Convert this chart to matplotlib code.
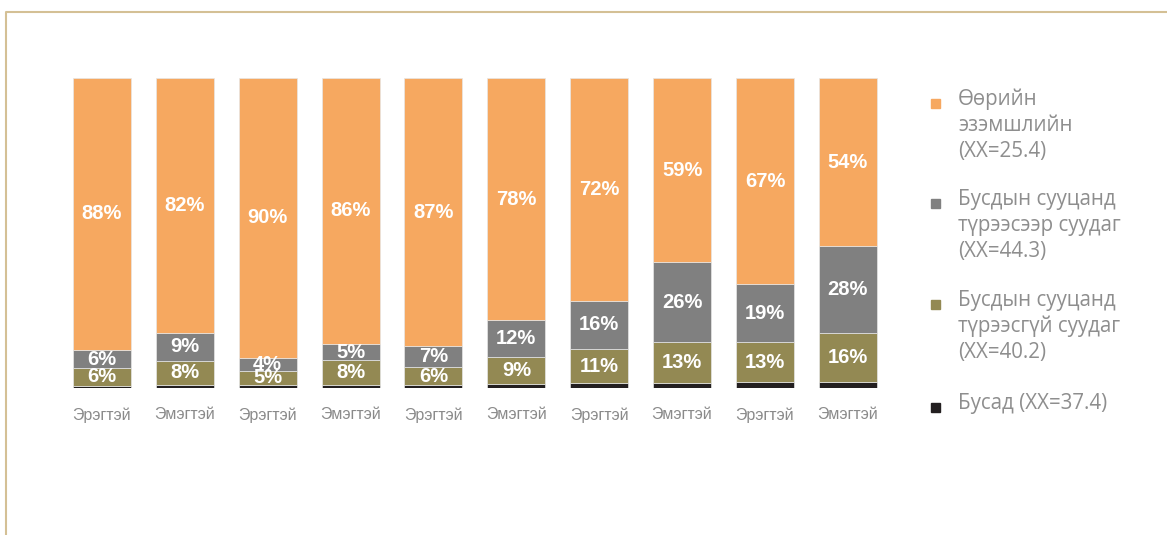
import matplotlib.pyplot as plt
from matplotlib.lines import Line2D
from matplotlib.patches import Rectangle
import numpy as np

# sex of the respondent, alternating for each bar
categories = ['Эрэгтэй', 'Эмэгтэй', 'Эрэгтэй', 'Эмэгтэй', 'Эрэгтэй',
              'Эмэгтэй', 'Эрэгтэй', 'Эмэгтэй', 'Эрэгтэй', 'Эмэгтэй']

# shares of each housing type, percent
own = [87.7, 82.2, 90.3, 85.8, 86.6, 78.2, 71.8, 59.4, 66.6, 54.2]
rent = [5.9, 9.1, 4.1, 5.3, 6.7, 11.8, 15.7, 25.8, 18.6, 27.9]
no_rent = [5.7, 7.7, 4.6, 7.9, 5.7, 8.8, 10.9, 13.2, 12.9, 15.9]
other = [0.7, 1.0, 1.0, 1.0, 1.0, 1.2, 1.6, 1.6, 1.9, 2.0]

series_names = ['Өөрийн\nэзэмшлийн\n(XX=25.4)',
                'Бусдын сууцанд\nтүрээсээр суудаг\n(XX=44.3)',
                'Бусдын сууцанд\nтүрээсгүй суудаг\n(XX=40.2)',
                'Бусад (XX=37.4)']

colors = ['#F6A860', '#808080', '#938953', '#231F20']

W, H = 1167, 535
fig = plt.figure(figsize=(W / 100, H / 100), dpi=100)
ax = fig.add_axes([56.4 / W, (H - 388) / H, 837 / W, 310 / H])

x = np.arange(len(categories))
stack = [other, no_rent, rent, own]
stack_colors = [colors[3], colors[2], colors[1], colors[0]]
bottom = np.zeros(len(categories))
for k, (vals, col) in enumerate(zip(stack, stack_colors)):
    vals = np.array(vals)
    ax.bar(x, vals, 0.7, bottom=bottom, color=col, edgecolor='#e6e6e6',
           linewidth=0.5)
    if k > 0:
        for xi, b, v in zip(x, bottom, vals):
            ax.text(xi, b + v / 2, f'{v:.0f}%', ha='center', va='center',
                    color='white', fontsize=14.5, fontweight='bold',
                    family='Liberation Sans')
    bottom += vals

ax.set_xlim(-0.55, 9.55)
ax.set_ylim(0, 100)
ax.set_xticks(x)
ax.set_xticklabels(categories, fontsize=11.5, color='#8a8a8a',
                   family='Liberation Sans')
ax.tick_params(axis='x', length=0, pad=14)
ax.set_yticks([])
for s in ax.spines.values():
    s.set_visible(False)

# legend drawn by hand so each marker sits on the first text line
legend_y = [103, 203, 304, 407]
for name, col, yy in zip(series_names, colors, legend_y):
    fig.add_artist(Rectangle((931 / W, (H - yy - 4.5) / H), 9 / W, 9 / H,
                             color=col, transform=fig.transFigure))
    fig.text(958 / W, (H - yy + 14) / H, name, ha='left', va='top',
             fontsize=14.8, color='#8e8e8e', family='Open Sans',
             linespacing=1.3)

# thin frame along the top and left edges
fig.add_artist(Line2D([6 / W, 6 / W, 1.0], [0.0, (H - 12) / H, (H - 12) / H],
                      color='#d4c095', linewidth=1.5,
                      transform=fig.transFigure))

fig.savefig('out.png', dpi=100)
